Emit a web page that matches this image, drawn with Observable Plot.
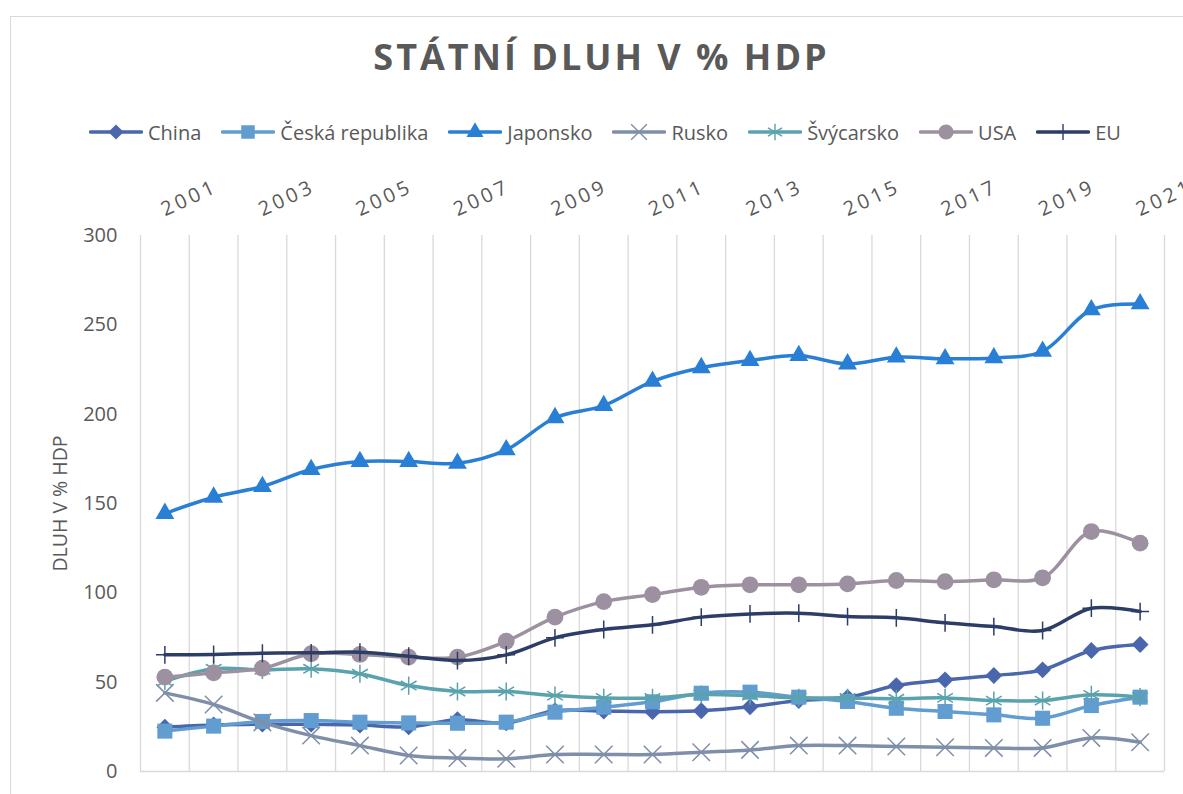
<!DOCTYPE html>
<html><head><meta charset="utf-8">
<script src="https://cdn.jsdelivr.net/npm/d3@7"></script>
<script src="https://cdn.jsdelivr.net/npm/@observablehq/plot@0.6"></script>
<style>
body{margin:0;background:#fff;overflow:hidden;font-family:"Open Sans",sans-serif;width:1183px;height:794px;position:relative;}
#frame{position:absolute;left:10px;top:16px;width:1200px;height:800px;border:1.5px solid #d9d9d9;box-sizing:border-box;}
#title{position:absolute;left:0;top:37px;width:1203px;text-align:center;font-size:36px;font-weight:700;color:#595959;letter-spacing:3px;line-height:40px;}
#legend{position:absolute;left:89px;top:119px;height:26px;display:flex;align-items:center;font-size:20px;color:#595959;white-space:nowrap;}
#legend .item{display:flex;align-items:center;margin-right:20px;}
#legend svg{margin-right:5px;}
#chart{position:absolute;left:0;top:150px;}
</style></head><body>
<div id="frame"></div>
<div id="title">STÁTNÍ DLUH V % HDP</div>
<div id="legend"></div>
<div id="chart"></div>
<script>
const years = [2001,2002,2003,2004,2005,2006,2007,2008,2009,2010,2011,2012,2013,2014,2015,2016,2017,2018,2019,2020,2021];
const labelYears = [2001,2003,2005,2007,2009,2011,2013,2015,2017,2019,2021];
const yTicks = [0,50,100,150,200,250,300];

const china  = [24.8,26,26.5,26.5,26,25,29,27.2,34,33.8,33.5,34,36.2,39.7,41.5,48.1,51.3,53.7,56.9,67.7,71.1];
const czech  = [22.6,25.4,28,28.5,27.6,27.2,27,27.6,33.2,36,39,43.8,44.4,41.6,39.2,35.4,33.6,31.7,29.8,36.9,41.6];
const japan  = [144.4,153.5,159.5,169,173.5,173.5,172.5,180,198,204.8,218.4,226,230,232.8,228.1,231.9,231,231.5,235.2,258.4,261.7];
const russia = [44,37.5,27.5,20.1,14.5,9,7.5,7.1,9.5,9.5,9.5,10.8,12.1,14.5,14.5,14,13.6,13.2,13.2,18.8,16.4];
const swiss  = [50.5,57.5,56.9,57.5,54.7,48.1,44.8,44.8,42.5,41.2,41.2,43.1,42.5,41.2,41.2,40.7,41.2,39.7,39.7,42.9,41.6];
const usa    = [52.8,55.2,57.8,65.9,65.5,64,64,72.9,86.4,95.1,99,103.1,104.5,104.5,105,106.9,106.3,107.3,108.4,134.3,127.8];
const eu     = [65.3,65.5,66.2,66.4,66.8,64.5,62.1,65.3,74.8,79.5,82.1,86.4,88.2,88.6,86.7,86,83.2,81.1,78.9,91.4,89.5];

const seriesNames = ["China","Česká republika","Japonsko","Rusko","Švýcarsko","USA","EU"];
const seriesValues = [china,czech,japan,russia,swiss,usa,eu];
const seriesColors = ["#4A66AC","#629DD1","#297FD5","#7F8FA9","#5AA2AE","#9D90A0","#2C3D67"];
const seriesSymbols = ["diamond2","square","triangle","times","asterisk","circle","plus"];
const filledSymbols = {diamond2:true,square:true,triangle:true,circle:true};
const symbolR = {diamond2:7.6,square:8.5,triangle:7,times:8,asterisk:8.6,circle:8.4,plus:5.8};
const d3Sym = {diamond2:d3.symbolDiamond2,square:d3.symbolSquare,triangle:d3.symbolTriangle,times:d3.symbolTimes,asterisk:d3.symbolAsterisk,circle:d3.symbolCircle,plus:d3.symbolPlus};

const series = seriesNames.map((name,i)=>({
  name, color: seriesColors[i], symbol: seriesSymbols[i],
  data: years.map((y,j)=>({year:y, value: seriesValues[i][j]}))
}));

// legend
const legend = d3.select("#legend");
series.forEach(s=>{
  const it = legend.append("div").attr("class","item");
  const svg = it.append("svg").attr("width",54).attr("height",20);
  svg.append("line").attr("x1",1.5).attr("x2",52.5).attr("y1",10).attr("y2",10)
    .attr("stroke",s.color).attr("stroke-width",3.5).attr("stroke-linecap","round");
  const r = symbolR[s.symbol]*0.9;
  const path = d3.symbol(d3Sym[s.symbol], Math.PI*r*r)();
  const p = svg.append("path").attr("d",path).attr("transform","translate(27,10)");
  if (filledSymbols[s.symbol]) p.attr("fill",s.color);
  else p.attr("fill","none").attr("stroke",s.color).attr("stroke-width",1.4);
  it.append("span").text(s.name);
});

const gridX = years.map(y=>y-0.5).concat([years[years.length-1]+0.5]);

const marks = [
  Plot.ruleX(gridX, {stroke:"#d9d9d9", strokeWidth:1.3}),
  Plot.ruleY([0], {stroke:"#d9d9d9", strokeWidth:1.3}),
  Plot.axisY({ticks:yTicks, tickSize:0, tickPadding:23, fontSize:20, label:null, color:"#595959"}),
  Plot.text(["DLUH V % HDP"], {text:d=>d, frameAnchor:"left", dx:-80, rotate:-90, textAnchor:"middle", fontSize:19.5, fill:"#595959"}),
  Plot.text(labelYears, {x:d=>d, text:d=>String(d), frameAnchor:"top", dy:-19, rotate:-25, textAnchor:"start", lineAnchor:"bottom", fontSize:20, fill:"#595959"})
];
series.forEach(s=>{
  marks.push(Plot.line(s.data, {x:"year", y:"value", stroke:s.color, strokeWidth:3.5, curve:"catmull-rom"}));
  const r = symbolR[s.symbol];
  if (filledSymbols[s.symbol]) marks.push(Plot.dot(s.data, {x:"year", y:"value", symbol:()=>s.symbol, r, fill:s.color, stroke:"none"}));
  else marks.push(Plot.dot(s.data, {x:"year", y:"value", symbol:()=>s.symbol, r, stroke:s.color, strokeWidth:1.5, fill:"none"}));
});

const chart = Plot.plot({
  width:1183, height:644,
  marginLeft:140, marginRight:19, marginTop:85, marginBottom:23,
  x:{domain:[2000.5,2021.5], axis:null},
  y:{domain:[0,300], axis:null},
  symbol:{type:"identity"},
  style:{fontFamily:"Open Sans, sans-serif", color:"#595959", background:"transparent", overflow:"visible"},
  marks
});
document.getElementById("chart").appendChild(chart);
d3.select(chart).selectAll("text").filter(function(){ return /^\d{4}$/.test(this.textContent); })
  .attr("letter-spacing","3.5").style("letter-spacing","3.5px");
</script>
</body></html>
